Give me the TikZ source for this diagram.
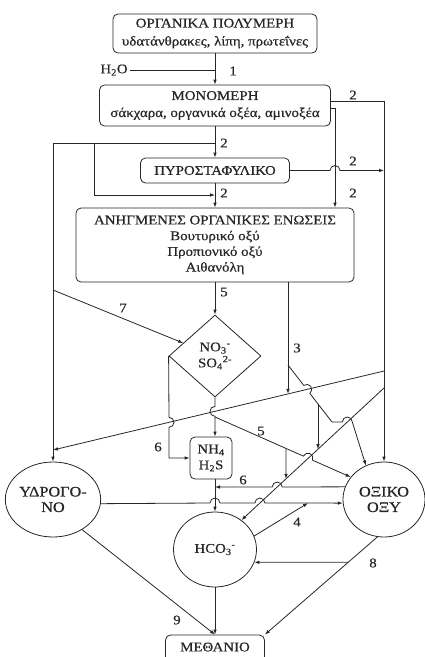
\documentclass[tikz,border=0pt]{standalone}
\usepackage{fontspec}
\setmainfont{Liberation Serif}[FakeStretch=1.12,FakeBold=0.5]
\usetikzlibrary{arrows.meta,shapes.geometric,calc}

\begin{document}
\begin{tikzpicture}[x=1pt, y=-1pt, line width=0.8pt, color=black!85,
    font=\fontsize{13.3}{16}\selectfont,
    stage/.style={draw, rounded corners=5pt, align=center, inner sep=0pt},
    blob/.style={draw, ellipse, inner sep=0pt, align=center, minimum width=83pt, minimum height=75pt, font=\fontsize{14.5}{15.5}\selectfont},
    arr/.style={-{Latex[length=5pt,width=3.6pt]}},
    lbl/.style={inner sep=0pt}
]
\useasboundingbox (0,0) rectangle (425,657);
\clip (0,0) rectangle (425,657);

\node[stage, minimum width=204pt, minimum height=39pt, font=\fontsize{13.3}{18}\selectfont] (poly) at (215,33.5) {ΟΡΓΑΝΙΚΑ ΠΟΛΥΜΕΡΗ\\υδατάνθρακες, λίπη, πρωτεΐνες};
\node[stage, minimum width=231pt, minimum height=41pt, font=\fontsize{13.3}{17}\selectfont] (mono) at (215,105.5) {ΜΟΝΟΜΕΡΗ\\σάκχαρα, οργανικά οξέα, αμινοξέα};
\node[stage, minimum width=149pt, minimum height=25pt] (pyr) at (215,170.5) {ΠΥΡΟΣΤΑΦΥΛΙΚΟ};
\node[stage, minimum width=278pt, minimum height=74pt, font=\fontsize{13.3}{15.7}\selectfont] (anh) at (215,245) {ΑΝΗΓΜΕΝΕΣ ΟΡΓΑΝΙΚΕΣ ΕΝΩΣΕΙΣ\\Βουτυρικό οξύ\\Προπιονικό οξύ\\Αιθανόλη};
\node[draw, diamond, minimum width=92pt, minimum height=82pt, inner sep=0pt, align=center] (dia) at (215,356) {NO\textsubscript{3}\textsuperscript{-}\\SO\textsubscript{4}\textsuperscript{2-}};
\node[stage, minimum width=42pt, minimum height=42pt] (nh4) at (211,458) {NH\textsubscript{4}\\H\textsubscript{2}S};
\node[blob, minimum width=85pt] (hyd) at (53,499.5) {ΥΔΡΟΓΟ-\\ΝΟ};
\node[blob, font=\fontsize{13.3}{16}\selectfont] (hco) at (215,549.5) {HCO\textsubscript{3}\textsuperscript{-}};
\node[blob, minimum width=82pt] (ac) at (384,499.5) {ΟΞΙΚΟ\\ΟΞΥ};
\node[stage, minimum width=99pt, minimum height=27pt] (meth) at (215,648.5) {\raisebox{3pt}{ΜΕΘΑΝΙΟ}};
\node[inner sep=2pt] (h2o) at (114,70) {H\textsubscript{2}O};

\coordinate (j1) at (215,143);
\coordinate (j2) at (94,143);
\coordinate (j3) at (215,195);
\coordinate (rc) at (335,150);
\coordinate (j7) at (53,290);
\coordinate (hx) at (384,371);
\coordinate (hy) at (53,450);
\coordinate (cx) at (384,388);
\coordinate (x3) at (288,365);
\coordinate (e3) at (288,393.9);
\coordinate (x3b) at (318,404);
\coordinate (d3) at (318,449.2);
\coordinate (j5) at (215,417);
\coordinate (e5) at (ac.146);
\coordinate (h5) at ($(j5)!0.685!(e5)$);
\coordinate (j6) at ($(j5)!0.523!(e5)$);
\coordinate (d5) at (286,478.8);
\coordinate (e6) at (215,487);
\coordinate (d4) at (308,503);
\coordinate (j8) at ($(ac.-100)!0.259!(meth.north east)$);

\draw[arr] (poly) -- (mono);
\draw (h2o) -- (h2o -| poly.south);
\draw[arr] ([yshift=4pt]mono.east) -| (ac);
\draw[arr] ([yshift=-3pt]mono.east) -| (anh.north -| rc);
\draw[arr] (mono) -- (pyr);
\draw[arr] (j1) -| (hyd);
\draw[arr] (j2) |- (j3);
\draw[arr] (pyr) -- (anh);
\draw[arr] (pyr.east) -- (330,170.5) arc[start angle=180, end angle=0, radius=5pt] -- (pyr.east -| ac.north);
\draw[arr] (anh) -- (dia);
\draw[arr] (j7) -- (dia);
\draw[arr] (anh.south -| x3) -- (e3);
\draw[arr] (hx) -- (hy);
\draw[arr] (cx) -- (hco.48);
\draw[arr] (x3) -- (303.75,385.4) arc[start angle=127.6, end angle=-52.4, radius=5pt] -- (x3b) -- (332,422) -- (342.3,422) arc[start angle=180, end angle=0, radius=5pt] -- (ac.118);
\draw[arr] (x3b) -- (d3);
\draw[arr] (dia.south) -- (215,406.3) arc[start angle=90, end angle=270, radius=5pt] -- (dia.south |- nh4.north);
\draw[arr] (dia.west) -- (169,417.3) arc[start angle=90, end angle=-90, radius=5pt] |- (nh4.west);
\draw[arr] (j5) -- ($(h5)!5pt!(j5)$) arc[start angle=156, end angle=-24, radius=5pt] -- (e5);
\draw[arr] (j6) -- (d5);
\draw[arr] (ac.162) -- (282.2,487) arc[start angle=0, end angle=180, radius=5pt] -- (e6);
\draw[arr] (hyd.-5) -- (210,503) arc[start angle=180, end angle=0, radius=5pt] -- (254.9,503) arc[start angle=180, end angle=0, radius=5pt] -- (ac.185);
\draw[arr] (e6 |- nh4.south) -- (hco);
\draw[arr] (hco.19) -- (d4);
\draw[arr] (ac.-100) -- (meth.north east);
\draw[arr] (j8) -- (hco.-18);
\draw[arr] (hyd.-46) -- (meth.north);
\draw[arr] (hco) -- (meth);

\node[lbl] (l1) at (233,71) {1};
\node[lbl] (l2a) at (353,95) {2};
\node[lbl] (l2b) at (224,143) {2};
\node[lbl] (l2c) at (353,161) {2};
\node[lbl] (l2d) at (224,193) {2};
\node[lbl] (l2e) at (353,193) {2};
\node[lbl] (l5a) at (224,292) {5};
\node[lbl] (l7) at (123,308) {7};
\node[lbl] (l3) at (297,348) {3};
\node[lbl] (l6a) at (158,447) {6};
\node[lbl] (l5b) at (261,431) {5};
\node[lbl] (l6b) at (243,480) {6};
\node[lbl] (l4) at (297,522) {4};
\node[lbl] (l8) at (373,563) {8};
\node[lbl] (l9) at (177,620) {9};
\end{tikzpicture}
\end{document}
